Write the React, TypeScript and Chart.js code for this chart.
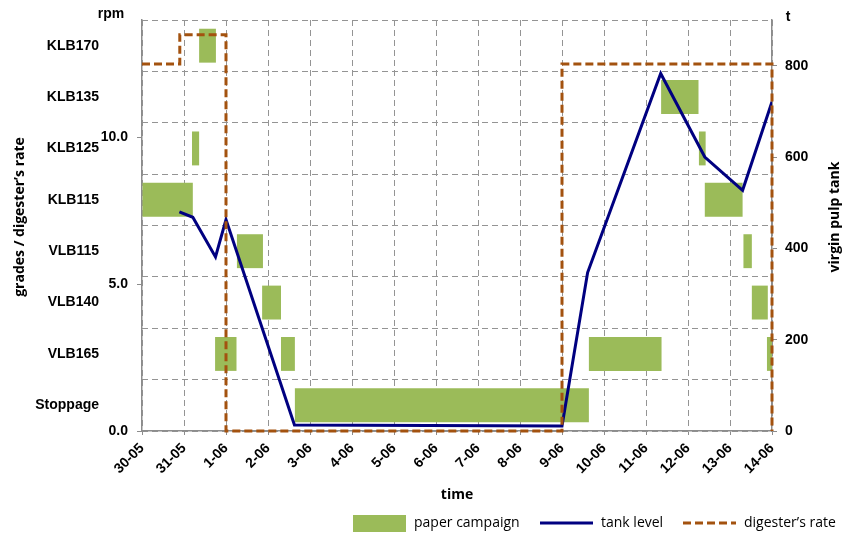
import React, { useEffect, useRef } from 'react';
import { Chart, registerables } from 'chart.js';

Chart.register(...registerables);

// Day labels on the time axis (day 0 = 30-05)
const dateLabels = ['30-05', '31-05', '1-06', '2-06', '3-06', '4-06', '5-06', '6-06', '7-06', '8-06', '9-06', '10-06', '11-06', '12-06', '13-06', '14-06'];

// Paper grades, top to bottom
const grades = ['KLB170', 'KLB135', 'KLB125', 'KLB115', 'VLB115', 'VLB140', 'VLB165', 'Stoppage'];

// Paper campaigns: grade, start day, end day
const campaignGrade = ['KLB115', 'KLB125', 'KLB170', 'VLB165', 'VLB115', 'VLB140', 'VLB165', 'Stoppage', 'VLB165', 'KLB135', 'KLB125', 'KLB115', 'VLB115', 'VLB140', 'VLB165'];
const campaignStart = [0, 1.19, 1.36, 1.74, 2.26, 2.86, 3.31, 3.64, 10.64, 12.36, 13.26, 13.4, 14.32, 14.52, 14.88];
const campaignEnd = [1.21, 1.36, 1.76, 2.25, 2.88, 3.31, 3.64, 10.64, 12.37, 13.25, 13.42, 14.3, 14.52, 14.9, 15];

// Virgin pulp tank level (t)
const tankDay = [0.89, 1.21, 1.75, 2.0, 3.63, 10.0, 10.61, 12.35, 13.4, 14.3, 15.0];
const tankLevel = [480, 468, 381, 463, 13, 11, 347, 783, 600, 527, 721];

// Digester's rate (rpm), stepped
const rateDay = [0, 0.9, 2, 10, 15];
const rateRpm = [12.5, 13.5, 0, 12.5, 0];

const GREEN = '#9BBB59';
const NAVY = '#000080';
const BROWN = '#A3520F';
const GRID = '#949494';
const AXIS = '#8C8C8C';
const TICK_FONT = { family: "'Liberation Sans', Arial, sans-serif", size: 14, weight: 'bold' as const };
const TITLE_FAMILY = "'Open Sans', sans-serif";

const extrasPlugin = {
  id: 'extras',
  afterDraw(chart: any) {
    const { ctx } = chart;
    ctx.save();
    ctx.fillStyle = '#000';
    ctx.textBaseline = 'middle';

    // unit labels above the value axes
    ctx.font = "bold 14px 'Liberation Sans', Arial, sans-serif";
    ctx.textAlign = 'center';
    ctx.fillText('rpm', 111, 14);
    ctx.fillText('t', 788, 17);

    // vertical axis titles, reading bottom to top
    ctx.font = `bold 14px ${TITLE_FAMILY}`;
    const vTitle = (text: string, x: number, y: number) => {
      ctx.save();
      ctx.translate(x, y);
      ctx.rotate(-Math.PI / 2);
      ctx.fillText(text, 0, 0);
      ctx.restore();
    };
    vTitle('grades / digester\u2019s rate', 20, 217);
    vTitle('virgin pulp tank', 835, 217);

    // legend
    const ly = 523;
    ctx.font = `14px ${TITLE_FAMILY}`;
    ctx.textAlign = 'left';
    ctx.fillStyle = GREEN;
    ctx.fillRect(353, 515, 53, 17);
    ctx.fillStyle = '#000';
    ctx.fillText('paper campaign', 414, ly);

    ctx.strokeStyle = NAVY;
    ctx.lineWidth = 3;
    ctx.beginPath();
    ctx.moveTo(540, ly);
    ctx.lineTo(593, ly);
    ctx.stroke();
    ctx.fillText('tank level', 601, ly);

    ctx.strokeStyle = BROWN;
    ctx.setLineDash([8, 4]);
    ctx.beginPath();
    ctx.moveTo(683, ly);
    ctx.lineTo(736, ly);
    ctx.stroke();
    ctx.setLineDash([]);
    ctx.fillText('digester\u2019s rate', 744, ly);
    ctx.restore();
  },
};

export default function App() {
  const canvasRef = useRef<HTMLCanvasElement | null>(null);

  useEffect(() => {
    document.body.style.margin = '0';
    const canvas = canvasRef.current;
    if (!canvas) return;

    const chart = new Chart(canvas, {
      type: 'line',
      data: {
        datasets: [
          {
            type: 'line',
            label: 'digester\u2019s rate',
            xAxisID: 'x',
            yAxisID: 'rpm',
            data: rateDay.map((d, i) => ({ x: d, y: rateRpm[i] })),
            stepped: true,
            borderColor: BROWN,
            borderWidth: 3,
            borderDash: [8, 4],
            pointRadius: 0,
            fill: false,
            order: 1,
            clip: 6,
          } as any,
          {
            type: 'line',
            label: 'tank level',
            xAxisID: 'x',
            yAxisID: 'tank',
            data: tankDay.map((d, i) => ({ x: d, y: tankLevel[i] })),
            borderColor: NAVY,
            borderWidth: 3,
            pointRadius: 0,
            tension: 0,
            fill: false,
            order: 2,
          } as any,
          {
            type: 'bar',
            label: 'paper campaign',
            indexAxis: 'y',
            xAxisID: 'x',
            yAxisID: 'grade',
            data: campaignGrade.map((g, i) => ({ y: g, x: [campaignStart[i], campaignEnd[i]] })),
            backgroundColor: GREEN,
            borderWidth: 0,
            barPercentage: 0.66,
            categoryPercentage: 1,
            grouped: false,
            order: 3,
          } as any,
        ],
      },
      options: {
        responsive: false,
        animation: false,
        events: [],
        layout: { padding: { top: 20, bottom: 31, left: 0, right: 0 } },
        plugins: { legend: { display: false }, tooltip: { enabled: false } },
        scales: {
          x: {
            type: 'linear',
            axis: 'x',
            position: 'bottom',
            min: 0,
            max: 15,
            afterFit: (s: any) => { s.height = 75; },
            ticks: {
              stepSize: 1,
              autoSkip: false,
              maxRotation: 45,
              minRotation: 45,
              padding: 5,
              color: '#000',
              font: TICK_FONT,
              callback: (v: any) => dateLabels[Math.round(Number(v))] ?? '',
            },
            grid: { color: GRID, lineWidth: 1, tickLength: 4, tickColor: AXIS },
            border: { display: true, color: AXIS, width: 1.5, dash: [6, 4] },
            title: {
              display: true,
              text: 'time',
              color: '#000',
              font: { family: TITLE_FAMILY, size: 14, weight: 'bold' },
              padding: { top: 0, bottom: 2.5 },
            },
          },
          grade: {
            type: 'category',
            axis: 'y',
            position: 'left',
            weight: 1,
            labels: grades,
            offset: true,
            afterFit: (s: any) => { s.width = 100; },
            ticks: { color: '#000', font: TICK_FONT, padding: 1, autoSkip: false },
            grid: { offset: true, color: GRID, lineWidth: 1, drawTicks: false },
            border: { display: false, dash: [6, 4] },
          },
          rpm: {
            type: 'linear',
            axis: 'y',
            position: 'left',
            weight: 0,
            min: 0,
            max: 14,
            afterFit: (s: any) => { s.width = 42; },
            ticks: {
              stepSize: 5,
              includeBounds: false,
              padding: 9,
              color: '#000',
              font: TICK_FONT,
              callback: (v: any) => Number(v).toFixed(1),
            },
            grid: { drawOnChartArea: false, tickLength: 5, color: AXIS, lineWidth: 1 },
            border: { display: true, color: AXIS, width: 1.5 },
          },
          tank: {
            type: 'linear',
            axis: 'y',
            position: 'right',
            min: 0,
            max: 900,
            afterFit: (s: any) => { s.width = 73; },
            ticks: {
              stepSize: 200,
              includeBounds: false,
              padding: 8,
              color: '#000',
              font: TICK_FONT,
            },
            grid: { drawOnChartArea: false, tickLength: 5, color: AXIS, lineWidth: 1 },
            border: { display: true, color: AXIS, width: 1.5 },
          },
        },
      } as any,
      plugins: [extrasPlugin],
    });

    return () => chart.destroy();
  }, []);

  return (
    <div style={{ width: 845, height: 537 }}>
      <canvas ref={canvasRef} width={845} height={537} style={{ display: 'block' }} />
    </div>
  );
}
